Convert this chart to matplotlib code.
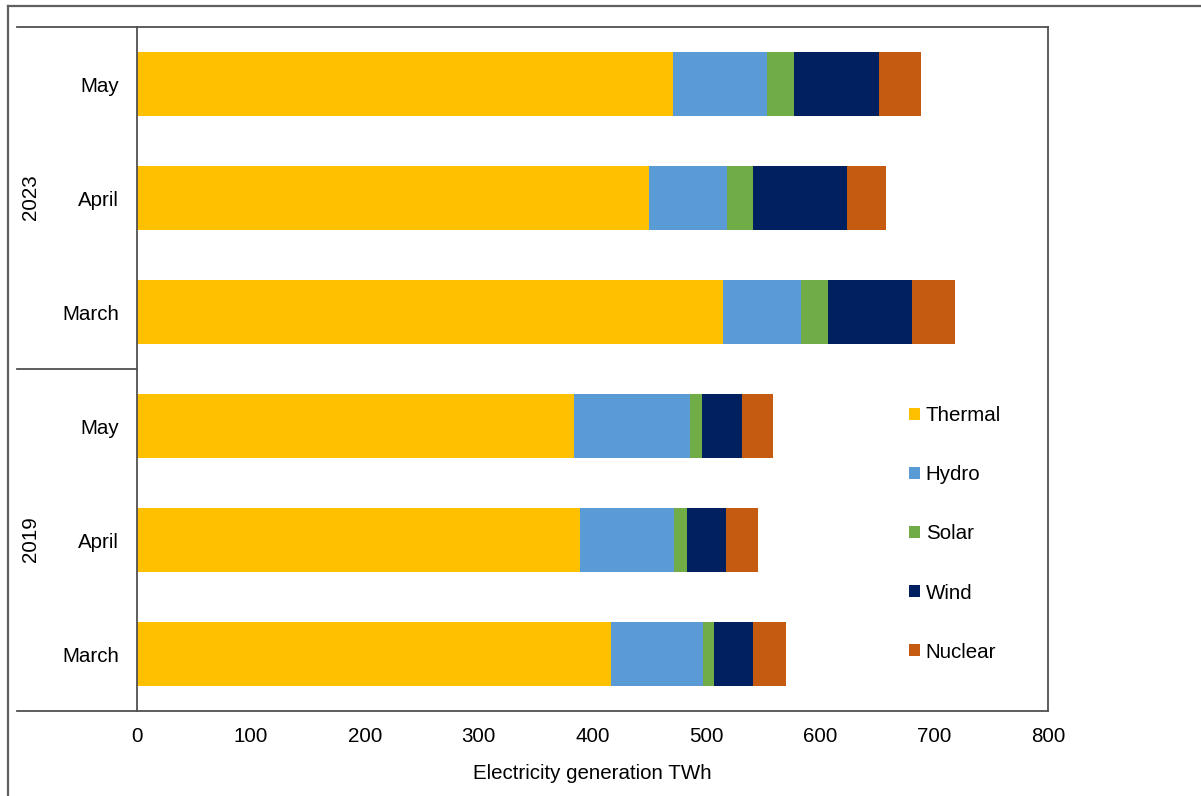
import matplotlib
matplotlib.use("Agg")
import matplotlib.pyplot as plt
from matplotlib.patches import Patch
from matplotlib.lines import Line2D
import numpy as np

plt.rcParams['font.family'] = ['Liberation Sans', 'DejaVu Sans']

# Categories, top to bottom
months = ["May", "April", "March", "May", "April", "March"]
years = ["2023", "2019"]

# Electricity generation by source, TWh
thermal = [471, 450, 515, 383.5, 389, 416]
hydro = [82.5, 68, 68, 102, 83, 81]
solar = [23.7, 23, 24, 10.5, 11, 10]
wind = [74, 82.5, 74, 35.3, 34, 34]
nuclear = [37, 34, 37, 27, 28, 28.5]

series = ["Thermal", "Hydro", "Solar", "Wind", "Nuclear"]
colors = ["#FFC000", "#5B9BD5", "#70AD47", "#002060", "#C55A11"]
xticks = [0, 100, 200, 300, 400, 500, 600, 700, 800]

FS = 14.8
W, H = 1201, 796
fig = plt.figure(figsize=(W / 100, H / 100), dpi=100)
ax = fig.add_axes([137 / W, 1 - 711 / H, (1048 - 137) / W, (711 - 27) / H])

y = np.arange(len(months))
left = np.zeros(len(months))
for name, vals, col in zip(series, [thermal, hydro, solar, wind, nuclear], colors):
    ax.barh(y, vals, left=left, height=0.57, color=col, label=name, linewidth=0)
    left = left + np.array(vals)

ax.set_ylim(len(months) - 0.5, -0.5)
ax.set_xlim(0, 800)
ax.set_xticks(xticks)
ax.set_xticklabels([str(v) for v in xticks], fontsize=FS)
ax.set_yticks(y)
ax.set_yticklabels(months, fontsize=FS)
ax.tick_params(axis='x', length=0, pad=11.5)
ax.tick_params(axis='y', length=0, pad=13)
ax.set_xlabel("Electricity generation TWh", fontsize=FS, labelpad=13)

spine_col = "#505050"
for s in ax.spines.values():
    s.set_color(spine_col)
    s.set_linewidth(1.3)

# Extend top and bottom rules across the category label area, plus the group divider
x_ext = (17 - 137) / (1048 - 137)
for yy in (0.0, 1.0, 0.5):
    ax.add_line(Line2D([x_ext, 0], [yy, yy], transform=ax.transAxes,
                       color=spine_col, lw=1.3, clip_on=False))

# Year group labels
ax.text(30.5 / W, 1 - 197.5 / H, years[0], rotation=90, fontsize=FS,
        ha='center', va='center', transform=fig.transFigure)
ax.text(30.5 / W, 1 - 539 / H, years[1], rotation=90, fontsize=FS,
        ha='center', va='center', transform=fig.transFigure)

# Outer frame
fig.add_artist(Line2D([8 / W, 1], [1 - 5.5 / H, 1 - 5.5 / H], color="#606060", lw=1.6))
fig.add_artist(Line2D([8 / W, 8 / W], [0, 1 - 5.5 / H], color="#606060", lw=1.6))

handles = [Patch(facecolor=c, edgecolor='none', label=n) for n, c in zip(series, colors)]
fig.legend(handles=handles, loc='center left', bbox_to_anchor=(909 / W, 1 - 534 / H),
           frameon=False, fontsize=FS, handlelength=0.52, handleheight=0.52,
           handletextpad=0.3, labelspacing=1.95, borderpad=0, borderaxespad=0)

fig.savefig("out.png", dpi=100)
